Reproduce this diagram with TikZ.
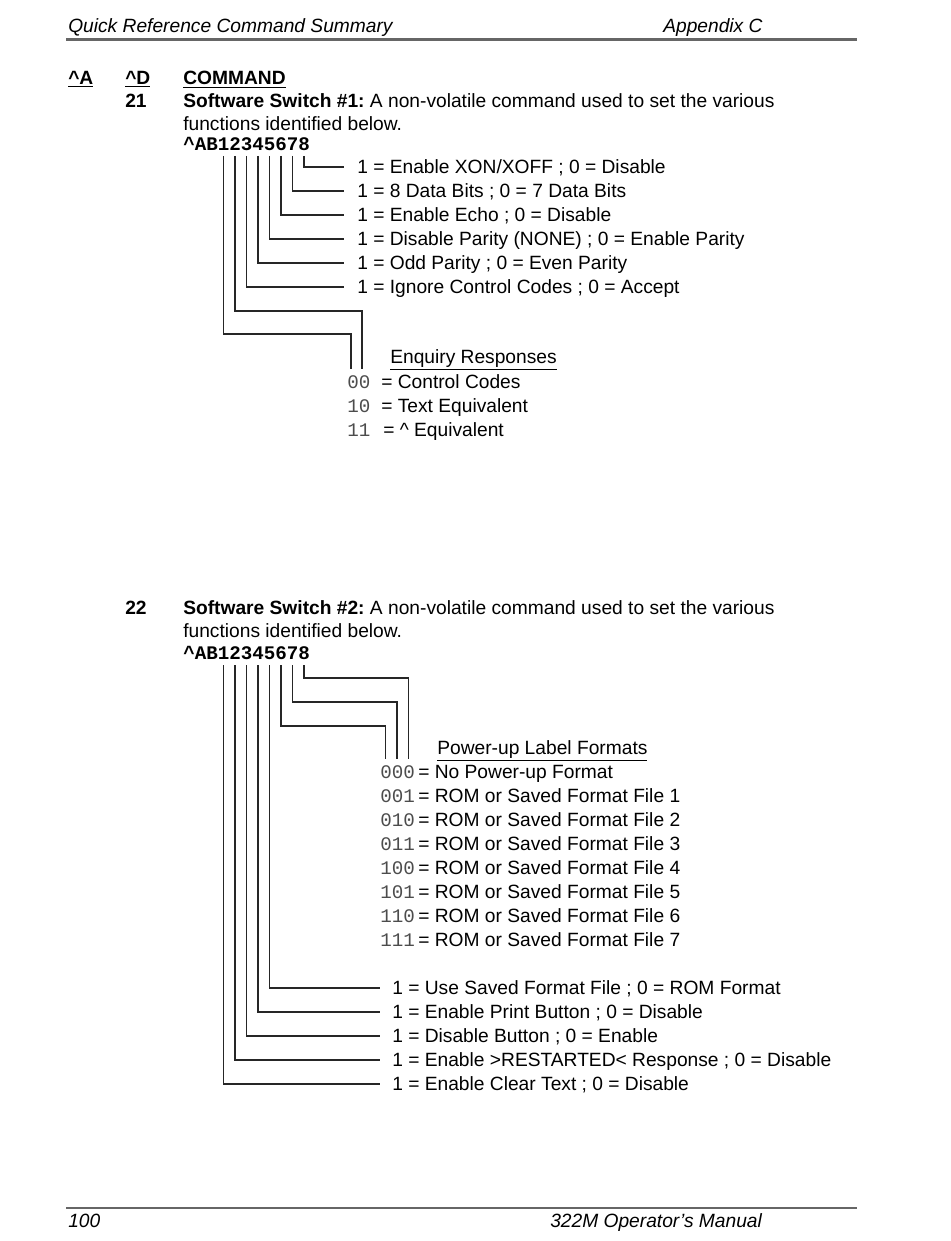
\documentclass[tikz,border=0pt]{standalone}
\usepackage{fontspec}
\setmainfont{Liberation Sans}
\setmonofont{Liberation Mono}
\usetikzlibrary{calc}
\newcommand{\bodyfont}{\fontsize{14.4}{17}\selectfont\frenchspacing}
\begin{document}
\begin{tikzpicture}[x=0.75pt,y=-0.75pt,
  every node/.style={inner sep=0pt, anchor=west, text height=10.2pt, text depth=0pt, font=\bodyfont},
  hdr/.style={font=\bodyfont\itshape},
  mono/.style={font=\bodyfont\ttfamily, text=black!70},
  monob/.style={font=\bodyfont\ttfamily\bfseries},
  wire/.style={line width=1.1pt, draw=black!85},
  rulebar/.style={line width=2.5pt, draw=black!60}]
\useasboundingbox (0,0) rectangle (950,1241);

% header / footer
\node[hdr] (htitle) at (68,26) {Quick Reference Command Summary};
\node[hdr] (happ) at (663,26) {Appendix C};
\coordinate (hr1) at (66,39.5); \coordinate (hr2) at (857,39.5);
\draw[rulebar] (hr1) -- (hr2);
\coordinate (fr1) at (66,1208); \coordinate (fr2) at (857,1208);
\draw[rulebar, line width=1.8pt] (fr1) -- (fr2);
\node[hdr] (fpage) at (68,1221) {100};
\node[hdr] (fman) at (550,1221) {322M Operator’s Manual};

% column heads
\node (cA) at (68,78) {\textbf{\underline{\textasciicircum A}}};
\node (cD) at (125,78) {\textbf{\underline{\textasciicircum D}}};
\node (cC) at (183,78) {\textbf{\underline{COMMAND}}};

% ---------- command 21 ----------
\node (n21) at (125,101) {\textbf{21}};
\node (t21a) at (183,101) {\textbf{Software Switch \#1:} A non-volatile command used to set the various};
\node (t21b) at (183,124) {functions identified below.};
\node[monob] (sw1) at (183,144) {\textasciicircum AB12345678};
\foreach \k in {1,...,8} \coordinate (a\k) at ({183+11.52*(\k+2.5)},156);

\node (l8) at (357,167) {1 = Enable XON/XOFF ; 0 = Disable};
\node (l7) at (357,191) {1 = 8 Data Bits ; 0 = 7 Data Bits};
\node (l6) at (357,215) {1 = Enable Echo ; 0 = Disable};
\node (l5) at (357,239) {1 = Disable Parity (NONE) ; 0 = Enable Parity};
\node (l4) at (357,263) {1 = Odd Parity ; 0 = Even Parity};
\node (l3) at (357,287) {1 = Ignore Control Codes ; 0 = Accept};
\foreach \k in {3,...,8} \draw[wire] (a\k) |- ($(l\k.west)+(-13,0)$);

\node (enq) at (390,357) {\underline{Enquiry Responses}};
\node[mono] (r00) at (347,382) {00};
\node (r00t) at (381,382) {= Control Codes};
\node[mono] (r10) at (347,406) {10};
\node (r10t) at (381,406) {= Text Equivalent};
\node[mono] (r11) at (347,430) {11};
\node (r11t) at (383,430) {= \textasciicircum{} Equivalent};
\coordinate (e1) at (351,369); \coordinate (e2) at (362,369);
\draw[wire] (a2) |- (362,311) -- (e2);
\draw[wire] (a1) |- (351,334) -- (e1);

% ---------- command 22 ----------
\node (n22) at (125,608) {\textbf{22}};
\node (t22a) at (183,608) {\textbf{Software Switch \#2:} A non-volatile command used to set the various};
\node (t22b) at (183,631) {functions identified below.};
\node[monob] (sw2) at (183,653) {\textasciicircum AB12345678};
\foreach \k in {1,...,8} \coordinate (b\k) at ({183+11.52*(\k+2.5)},665);

\coordinate (f6) at (385.5,759); \coordinate (f7) at (397,759); \coordinate (f8) at (408.7,759);
\draw[wire] (b8) |- (408.7,678) -- (f8);
\draw[wire] (b7) |- (397,702) -- (f7);
\draw[wire] (b6) |- (385.5,726) -- (f6);

\node (pul) at (437,748) {\underline{Power-up Label Formats}};
\foreach \c/\t [count=\i from 0] in {000/No Power-up Format, 001/ROM or Saved Format File 1, 010/ROM or Saved Format File 2, 011/ROM or Saved Format File 3, 100/ROM or Saved Format File 4, 101/ROM or Saved Format File 5, 110/ROM or Saved Format File 6, 111/ROM or Saved Format File 7} {
  \node[mono] (p\i) at (380,{772+24*\i}) {\c};
  \node (pt\i) at (418,{772+24*\i}) {= \t};
}

\node (m5) at (392,988) {1 = Use Saved Format File ; 0 = ROM Format};
\node (m4) at (392,1012) {1 = Enable Print Button ; 0 = Disable};
\node (m3) at (392,1036) {1 = Disable Button ; 0 = Enable};
\node (m2) at (392,1060) {1 = Enable >RESTARTED< Response ; 0 = Disable};
\node (m1) at (392,1084) {1 = Enable Clear Text ; 0 = Disable};
\foreach \k in {1,...,5} \draw[wire] (b\k) |- ($(m\k.west)+(-12,0)$);
\end{tikzpicture}
\end{document}
